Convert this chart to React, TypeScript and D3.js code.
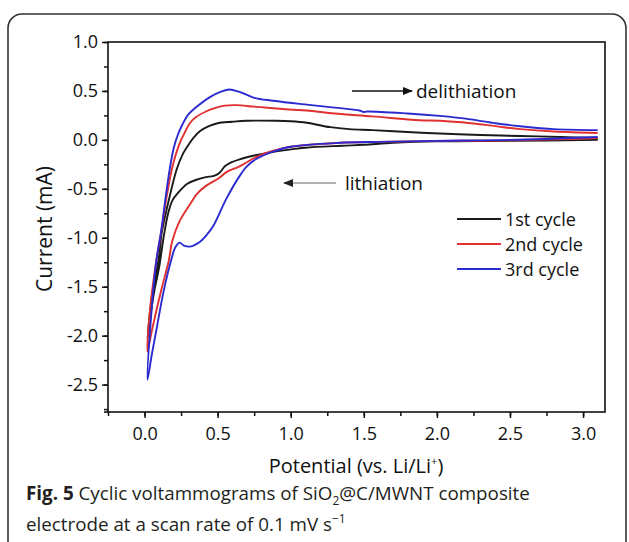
import React, { useEffect, useRef } from 'react';
import * as d3 from 'd3';

// potential (V) vs current (mA), in sweep order: cathodic from 3.1 V, then anodic back
const cycle1: [number, number][] = [
  [3.1, 0.0], [2.5, -0.01], [2.0, -0.015], [1.7, -0.03], [1.5, -0.05], [1.35, -0.06],
  [1.1, -0.08], [0.99, -0.1], [0.85, -0.13], [0.75, -0.16], [0.65, -0.2], [0.58, -0.24],
  [0.55, -0.27], [0.51, -0.34], [0.47, -0.37], [0.42, -0.38], [0.35, -0.41], [0.29, -0.45],
  [0.23, -0.54], [0.19, -0.62], [0.16, -0.76], [0.13, -1.0], [0.1, -1.3], [0.07, -1.52],
  [0.04, -1.8], [0.02, -2.03],
  [0.05, -1.6], [0.094, -1.24], [0.12, -0.93], [0.17, -0.59], [0.22, -0.3], [0.26, -0.15],
  [0.31, -0.03], [0.34, 0.03], [0.38, 0.09], [0.44, 0.14], [0.5, 0.17], [0.6, 0.185],
  [0.7, 0.195], [0.9, 0.195], [1.0, 0.19], [1.11, 0.175], [1.27, 0.13], [1.4, 0.11],
  [1.56, 0.1], [1.8, 0.08], [2.02, 0.065], [2.3, 0.05], [2.57, 0.04], [2.85, 0.03], [3.1, 0.02],
];
const cycle2: [number, number][] = [
  [3.1, 0.02], [2.5, -0.005], [2.0, -0.01], [1.6, -0.02], [1.34, -0.03], [1.0, -0.07],
  [0.88, -0.11], [0.77, -0.17], [0.65, -0.27], [0.56, -0.33], [0.51, -0.39], [0.42, -0.47],
  [0.36, -0.55], [0.31, -0.66], [0.24, -0.83], [0.19, -1.03], [0.165, -1.24], [0.12, -1.5],
  [0.08, -1.75], [0.05, -1.95], [0.02, -2.16],
  [0.04, -1.7], [0.08, -1.24], [0.115, -0.93], [0.15, -0.59], [0.19, -0.28], [0.22, -0.12],
  [0.25, 0.0], [0.27, 0.06], [0.31, 0.17], [0.35, 0.23], [0.42, 0.29], [0.47, 0.32],
  [0.55, 0.35], [0.63, 0.355], [0.75, 0.34], [0.99, 0.31], [1.11, 0.3], [1.3, 0.27],
  [1.56, 0.24], [1.88, 0.2], [2.02, 0.195], [2.23, 0.17], [2.4, 0.14], [2.57, 0.11],
  [2.8, 0.085], [3.1, 0.07],
];
const cycle3: [number, number][] = [
  [3.1, 0.03], [2.5, 0.0], [2.0, -0.01], [1.6, -0.02], [1.34, -0.03], [1.0, -0.07],
  [0.88, -0.12], [0.77, -0.19], [0.7, -0.27], [0.65, -0.37], [0.56, -0.6], [0.47, -0.88],
  [0.42, -0.98], [0.38, -1.04], [0.31, -1.09], [0.27, -1.08], [0.24, -1.05], [0.21, -1.1],
  [0.18, -1.24], [0.13, -1.55], [0.08, -1.95], [0.05, -2.19], [0.02, -2.45],
  [0.04, -1.9], [0.08, -1.24], [0.114, -0.93], [0.144, -0.59], [0.17, -0.32], [0.2, -0.08],
  [0.23, 0.06], [0.26, 0.16], [0.3, 0.26], [0.35, 0.33], [0.45, 0.44], [0.52, 0.49],
  [0.58, 0.515], [0.65, 0.49], [0.75, 0.43], [0.88, 0.4], [1.11, 0.36], [1.3, 0.33],
  [1.47, 0.3], [1.5, 0.285], [1.52, 0.29], [1.8, 0.27], [2.02, 0.245], [2.23, 0.21],
  [2.4, 0.17], [2.57, 0.14], [2.8, 0.11], [3.1, 0.1],
];

const seriesNames = ['1st cycle', '2nd cycle', '3rd cycle'];
const seriesColors = ['#1a1a1a', '#e03030', '#2a2ad0'];
const xTicks = [0, 0.5, 1.0, 1.5, 2.0, 2.5, 3.0];
const yTicks = [1.0, 0.5, 0.0, -0.5, -1.0, -1.5, -2.0, -2.5];

const font = "'Open Sans', 'Noto Sans', sans-serif";
const fmt = (d: d3.NumberValue) => d3.format('.1f')(d).replace('−', '-');

const App = () => {
  const xAxisRef = useRef<SVGGElement>(null);
  const yAxisRef = useRef<SVGGElement>(null);

  const left = 108, right = 605, top = 42, bottom = 412;
  const x = d3.scaleLinear().domain([-0.25, 3.15]).range([left, right]);
  const y = d3.scaleLinear().domain([-2.78, 1.0]).range([bottom, top]);

  const line = d3
    .line<[number, number]>()
    .x((d) => x(d[0]))
    .y((d) => y(d[1]))
    .curve(d3.curveCatmullRom.alpha(0.5));

  useEffect(() => {
    const gx = d3.select(xAxisRef.current);
    const gy = d3.select(yAxisRef.current);
    gx.selectAll('*').remove();
    gy.selectAll('*').remove();

    const xMinor = d3.range(-0.25, 3.16, 0.25);
    gx.call(d3.axisBottom(x).tickValues(xMinor).tickSize(4).tickFormat(() => ''));
    gx.append('g').call(
      d3.axisBottom(x).tickValues(xTicks).tickSize(6).tickPadding(9).tickFormat(fmt)
    );
    gx.selectAll('.domain').remove();

    const yMinor = d3.range(-2.75, 1.01, 0.25);
    gy.call(d3.axisLeft(y).tickValues(yMinor).tickSize(4).tickFormat(() => ''));
    gy.append('g').call(
      d3.axisLeft(y).tickValues(yTicks).tickSize(6).tickPadding(4).tickFormat(fmt)
    );
    gy.selectAll('.domain').remove();

    [gx, gy].forEach((g) => {
      g.selectAll('line').attr('stroke', '#111').attr('stroke-width', 1.5);
      g.selectAll('text')
        .attr('font-family', font)
        .attr('font-size', 18)
        .attr('fill', '#111');
    });
  }, []);

  const cycles = [cycle1, cycle2, cycle3];

  return (
    <svg width={629} height={542} style={{ position: 'absolute', left: 0, top: 0 }}>
      <rect width={629} height={542} fill="#fff" />
      <rect x={8} y={14} width={618} height={560} rx={14} fill="none" stroke="#333" strokeWidth={1.6} />

      <defs>
        <marker id="headBlack" viewBox="0 0 10 10" refX={9} refY={5} markerWidth={7} markerHeight={7} orient="auto">
          <path d="M0,1 L10,5 L0,9 z" fill="#111" />
        </marker>
        <marker id="headGray" viewBox="0 0 10 10" refX={9} refY={5} markerWidth={7} markerHeight={7} orient="auto">
          <path d="M0,1 L10,5 L0,9 z" fill="#222" />
        </marker>
      </defs>

      {cycles.map((c, i) => (
        <path key={i} d={line(c) ?? ''} fill="none" stroke={seriesColors[i]} strokeWidth={1.9} />
      ))}

      <rect x={left} y={top} width={right - left} height={bottom - top} fill="none" stroke="#111" strokeWidth={1.6} />
      <line x1={left - 4} x2={left} y1={bottom} y2={bottom} stroke="#111" strokeWidth={1.6} />

      <g ref={xAxisRef} transform={`translate(0,${bottom})`} />
      <g ref={yAxisRef} transform={`translate(${left},0)`} />

      {/* annotations */}
      <line x1={352} x2={412} y1={91} y2={91} stroke="#111" strokeWidth={1.5} markerEnd="url(#headBlack)" />
      <text x={416} y={98} fontFamily={font} fontSize={19} fill="#111">delithiation</text>
      <line x1={336} x2={284} y1={183} y2={183} stroke="#999" strokeWidth={1.5} markerEnd="url(#headGray)" />
      <text x={345} y={190} fontFamily={font} fontSize={19} fill="#111">lithiation</text>

      {/* legend */}
      {seriesNames.map((n, i) => (
        <g key={n} transform={`translate(0,${219 + i * 25})`}>
          <line x1={457} x2={501} y1={0} y2={0} stroke={seriesColors[i]} strokeWidth={2} />
          <text x={505} y={6.5} fontFamily={font} fontSize={18} fill="#111">{n}</text>
        </g>
      ))}

      {/* axis titles */}
      <text
        transform={`translate(52,${(top + bottom) / 2 + 2}) rotate(-90)`}
        textAnchor="middle"
        fontFamily={font}
        fontSize={21}
        fill="#111"
      >
        Current (mA)
      </text>
      <text x={356} y={473} textAnchor="middle" fontFamily={font} fontSize={20} fill="#111">
        Potential (vs. Li/Li<tspan dy={-8} fontSize={11}>+</tspan><tspan dy={8}>)</tspan>
      </text>

      {/* caption */}
      <text x={26} y={500} fontFamily={font} fontSize={18.8} fill="#231f20">
        <tspan fontWeight="bold">Fig. 5</tspan> Cyclic voltammograms of SiO
        <tspan dy={5} fontSize={12}>2</tspan>
        <tspan dy={-5}>@C/MWNT composite</tspan>
      </text>
      <text x={26} y={531} fontFamily={font} fontSize={18.8} fill="#231f20">
        electrode at a scan rate of 0.1 mV s<tspan dy={-8} fontSize={12}>−1</tspan>
      </text>
    </svg>
  );
};

export default App;
